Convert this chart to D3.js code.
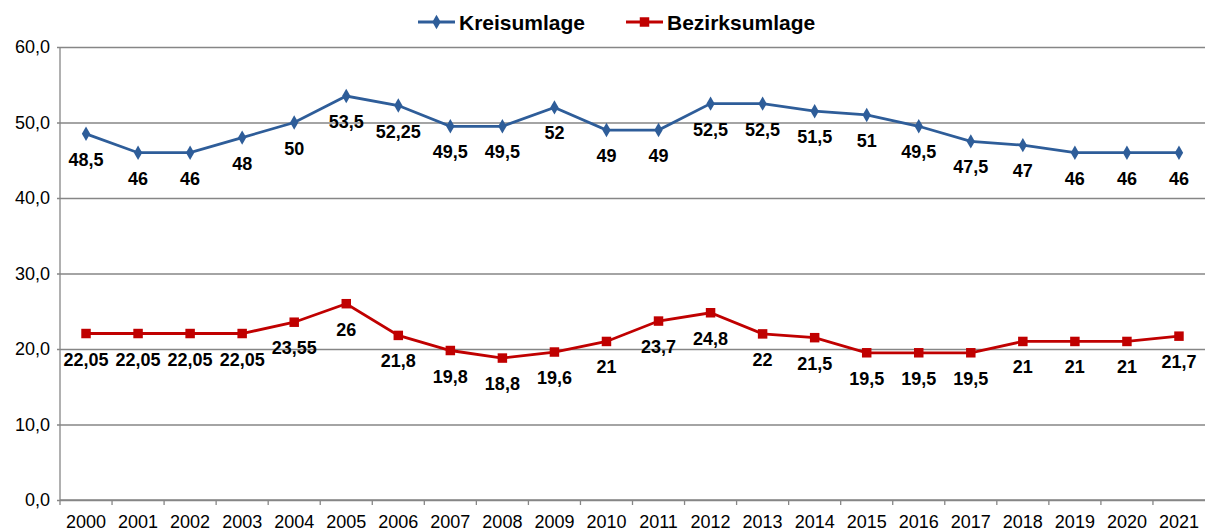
<!DOCTYPE html>
<html lang="de">
<head>
<meta charset="UTF-8">
<title>Kreisumlage / Bezirksumlage</title>
<style>
    body { margin: 0; background: #fff; }
    svg text { font-family: "Liberation Sans", Arial, sans-serif; fill: #000; }
    .label { font-weight: bold; font-size: 18px; }
</style>
</head>
<body>
<div id="chart"></div>
<script src="https://d3js.org/d3.v7.min.js"></script>
<script>
    // data
    var years = ["2000","2001","2002","2003","2004","2005","2006","2007","2008","2009","2010",
                 "2011","2012","2013","2014","2015","2016","2017","2018","2019","2020","2021"];
    var kreisumlage = [48.5, 46, 46, 48, 50, 53.5, 52.25, 49.5, 49.5, 52, 49,
                       49, 52.5, 52.5, 51.5, 51, 49.5, 47.5, 47, 46, 46, 46];
    var bezirksumlage = [22.05, 22.05, 22.05, 22.05, 23.55, 26, 21.8, 19.8, 18.8, 19.6, 21,
                         23.7, 24.8, 22, 21.5, 19.5, 19.5, 19.5, 21, 21, 21, 21.7];
    var yTicks = [0, 10, 20, 30, 40, 50, 60];

    var series = [
        { name: "Kreisumlage", values: kreisumlage, color: "#2E5D99", marker: "diamond" },
        { name: "Bezirksumlage", values: bezirksumlage, color: "#C00000", marker: "square" }
    ];

    var width = 1206, height = 529;
    var plotLeft = 60, plotRight = 1205, plotTop = 47, plotBottom = 500;

    var svg = d3.select("#chart").append("svg")
        .attr("width", width)
        .attr("height", height);

    var x = d3.scaleBand().domain(years).range([plotLeft, plotRight]);
    var y = d3.scaleLinear().domain([0, 60]).range([plotBottom, plotTop]);
    var comma = function(v) { return String(v).replace(".", ","); };

    // horizontal gridlines + y labels
    svg.append("g")
        .attr("transform", "translate(" + plotLeft + ",0)")
        .call(d3.axisLeft(y).tickValues(yTicks).tickSize(-(plotRight - plotLeft)).tickPadding(10)
            .tickFormat(function(d) { return d3.format(".1f")(d).replace(".", ","); }))
        .call(function(g) {
            g.select(".domain").remove();
            g.selectAll(".tick line").attr("stroke", "#868686").attr("stroke-width", 1.3).attr("x1", -3);
            g.selectAll(".tick text").attr("font-size", 18).attr("fill", "#000")
                .attr("font-family", "Liberation Sans, Arial, sans-serif");
        });

    // y axis line
    svg.append("line")
        .attr("x1", plotLeft).attr("x2", plotLeft).attr("y1", plotTop).attr("y2", plotBottom)
        .attr("stroke", "#868686").attr("stroke-width", 1.3);

    // x axis with tick marks between categories
    var xAxis = svg.append("g").attr("transform", "translate(0," + plotBottom + ")");
    xAxis.append("line").attr("x1", plotLeft).attr("x2", plotRight)
        .attr("stroke", "#868686").attr("stroke-width", 1.3);
    xAxis.selectAll(".sep")
        .data(years)
        .enter().append("line")
        .attr("x1", function(d) { return x(d); })
        .attr("x2", function(d) { return x(d); })
        .attr("y1", 0).attr("y2", 5)
        .attr("stroke", "#868686").attr("stroke-width", 1.3);
    xAxis.selectAll(".yr")
        .data(years)
        .enter().append("text")
        .attr("x", function(d) { return x(d) + x.bandwidth() / 2; })
        .attr("y", 28)
        .attr("text-anchor", "middle")
        .attr("font-size", 18)
        .text(function(d) { return d; });

    var cx = function(d, i) { return x(years[i]) + x.bandwidth() / 2; };

    var line = d3.line()
        .x(function(d, i) { return cx(d, i); })
        .y(function(d) { return y(d); });

    series.forEach(function(s) {
        var g = svg.append("g");
        g.append("path")
            .datum(s.values)
            .attr("fill", "none")
            .attr("stroke", s.color)
            .attr("stroke-width", 2.8)
            .attr("d", line);

        var sym = s.marker === "diamond"
            ? d3.symbol().type(d3.symbolDiamond).size(60)
            : d3.symbol().type(d3.symbolSquare).size(90);

        g.selectAll(".pt")
            .data(s.values)
            .enter().append("path")
            .attr("d", sym)
            .attr("fill", s.color)
            .attr("transform", function(d, i) { return "translate(" + cx(d, i) + "," + y(d) + ")"; });

        g.selectAll(".label")
            .data(s.values)
            .enter().append("text")
            .attr("class", "label")
            .attr("x", function(d, i) { return cx(d, i); })
            .attr("y", function(d) { return y(d) + 32; })
            .attr("text-anchor", "middle")
            .text(function(d) { return comma(d); });
    });

    // legend
    var legendX = [418, 626];
    series.forEach(function(s, i) {
        var lg = svg.append("g").attr("transform", "translate(" + legendX[i] + ",22)");
        lg.append("line").attr("x1", 0).attr("x2", 37)
            .attr("stroke", s.color).attr("stroke-width", 2.8);
        var sym = s.marker === "diamond"
            ? d3.symbol().type(d3.symbolDiamond).size(60)
            : d3.symbol().type(d3.symbolSquare).size(90);
        lg.append("path").attr("d", sym).attr("fill", s.color)
            .attr("transform", "translate(18.5,0)");
        lg.append("text")
            .attr("x", 41).attr("y", 7.5)
            .attr("font-size", 21).attr("font-weight", "bold")
            .text(s.name);
    });
</script>
</body>
</html>
